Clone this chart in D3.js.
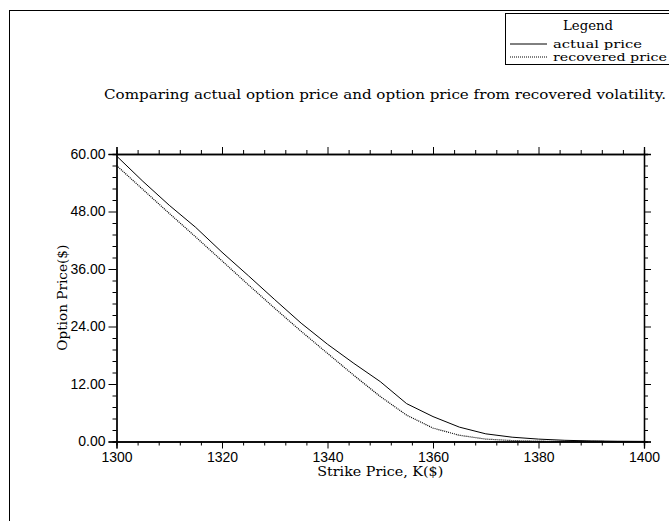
<!DOCTYPE html>
<html>
<head>
<meta charset="utf-8">
<script src="https://cdn.jsdelivr.net/npm/d3@7"></script>
<style>
  body { margin: 0; background: #fff; }
  svg { display: block; }
  .serif { font-family: "DejaVu Serif", "Liberation Serif", serif; }
</style>
</head>
<body>
<div id="chart"></div>
<script>
// strike prices K($)
const strikes = [1300, 1305, 1310, 1315, 1320, 1325, 1330, 1335, 1340, 1345, 1350,
  1355, 1360, 1365, 1370, 1375, 1380, 1385, 1390, 1395, 1400];
// actual option price
const actualPrice = [59.6, 54.3, 49.3, 44.7, 39.5, 34.6, 29.6, 24.7, 20.3, 16.3, 12.5,
  7.9, 5.2, 3.0, 1.6, 0.9, 0.5, 0.25, 0.12, 0.05, 0.02];
// option price from recovered volatility
const recoveredPrice = [57.6, 52.6, 47.6, 42.7, 37.7, 32.7, 27.8, 23.0, 18.4, 13.8, 9.4,
  5.5, 2.8, 1.3, 0.5, 0.2, 0.07, 0.02, 0.01, 0, 0];

const xMajor = [1300, 1320, 1340, 1360, 1380, 1400];
const yMajor = [0, 12, 24, 36, 48, 60];
const seriesNames = ["actual price", "recovered price"];

const width = 669, height = 521;
const margin = { top: 154, right: 25, bottom: 79.5, left: 116.5 };
const w = width - margin.left - margin.right;
const h = height - margin.top - margin.bottom;

const svg = d3.select("#chart").append("svg")
  .attr("width", width).attr("height", height);

// outer frame (runs past the right/bottom edge)
svg.append("rect")
  .attr("x", 9.5).attr("y", 10.5)
  .attr("width", 720).attr("height", 560)
  .attr("fill", "none").attr("stroke", "#000").attr("stroke-width", 1);

const g = svg.append("g")
  .attr("transform", "translate(" + margin.left + "," + margin.top + ")");

const x = d3.scaleLinear().domain([1300, 1400]).range([0, w]);
const y = d3.scaleLinear().domain([0, 60]).range([h, 0]);

const xMinor = d3.range(1300, 1400.1, 4).filter(v => xMajor.indexOf(v) < 0);
const yMinor = d3.range(0, 60.01, 2.4).filter(v => !yMajor.some(m => Math.abs(m - v) < 1e-6));

// minor ticks first
g.append("g").attr("transform", "translate(0," + h + ")")
  .call(d3.axisBottom(x).tickValues(xMinor).tickSize(4).tickFormat(""));
g.append("g")
  .call(d3.axisTop(x).tickValues(xMinor).tickSize(4).tickFormat(""));
g.append("g")
  .call(d3.axisLeft(y).tickValues(yMinor).tickSize(4).tickFormat(""));
g.append("g").attr("transform", "translate(" + w + ",0)")
  .call(d3.axisRight(y).tickValues(yMinor).tickSize(4).tickFormat(""));

// major ticks
g.append("g").attr("transform", "translate(0," + h + ")")
  .call(d3.axisBottom(x).tickValues(xMajor).tickSize(7).tickPadding(4).tickFormat(d3.format("d")));
g.append("g")
  .call(d3.axisTop(x).tickValues(xMajor).tickSize(7).tickFormat(""));
g.append("g")
  .call(d3.axisLeft(y).tickValues(yMajor).tickSize(8).tickPadding(3).tickFormat(d3.format(".2f")));
g.append("g").attr("transform", "translate(" + w + ",0)")
  .call(d3.axisRight(y).tickValues(yMajor).tickSize(7).tickFormat(""));

g.selectAll(".domain").attr("stroke", "#000").attr("stroke-width", 1.3);
g.selectAll(".tick line").attr("stroke", "#000");
g.selectAll(".tick text")
  .attr("font-family", "'Liberation Sans', Arial, sans-serif")
  .attr("font-size", 14)
  .attr("fill", "#000");

// lines
const line = (vals) => d3.line()
  .x((d, i) => x(strikes[i]))
  .y(d => y(d))(vals);

g.append("path")
  .attr("d", line(actualPrice))
  .attr("fill", "none").attr("stroke", "#000").attr("stroke-width", 1);
g.append("path")
  .attr("d", line(recoveredPrice))
  .attr("fill", "none").attr("stroke", "#000").attr("stroke-width", 1.2)
  .attr("stroke-dasharray", "1,1");

// axis titles
svg.append("text").attr("class", "serif")
  .attr("x", margin.left + w / 2).attr("y", 476)
  .attr("text-anchor", "middle").attr("font-size", 13)
  .attr("textLength", 126).attr("lengthAdjust", "spacingAndGlyphs")
  .text("Strike Price, K($)");
svg.append("text").attr("class", "serif")
  .attr("transform", "translate(67," + (margin.top + h / 2) + ") rotate(-90)")
  .attr("text-anchor", "middle").attr("font-size", 13)
  .attr("textLength", 106).attr("lengthAdjust", "spacingAndGlyphs")
  .text("Option Price($)");

// title
svg.append("text").attr("class", "serif")
  .attr("x", 104).attr("y", 99)
  .attr("font-size", 12.5)
  .attr("textLength", 562).attr("lengthAdjust", "spacingAndGlyphs")
  .text("Comparing actual option price and option price from recovered volatility.");

// legend
const lg = svg.append("g");
lg.append("rect")
  .attr("x", 505.5).attr("y", 13.5).attr("width", 200).attr("height", 51)
  .attr("fill", "#fff").attr("stroke", "#000").attr("stroke-width", 1);
lg.append("text").attr("class", "serif")
  .attr("x", 588).attr("y", 30).attr("text-anchor", "middle").attr("font-size", 12.5)
  .attr("textLength", 50).attr("lengthAdjust", "spacingAndGlyphs")
  .text("Legend");
const dashes = [null, "1,1"];
seriesNames.forEach((name, i) => {
  const ly = 44 + i * 13;
  lg.append("line")
    .attr("x1", 510).attr("x2", 547).attr("y1", ly).attr("y2", ly)
    .attr("stroke", "#000").attr("stroke-width", i ? 1.2 : 1)
    .attr("stroke-dasharray", dashes[i]);
  lg.append("text").attr("class", "serif")
    .attr("x", 553).attr("y", ly + 3.5).attr("font-size", 11.5)
    .attr("textLength", i ? 114 : 89).attr("lengthAdjust", "spacingAndGlyphs")
    .text(name);
});
</script>
</body>
</html>
